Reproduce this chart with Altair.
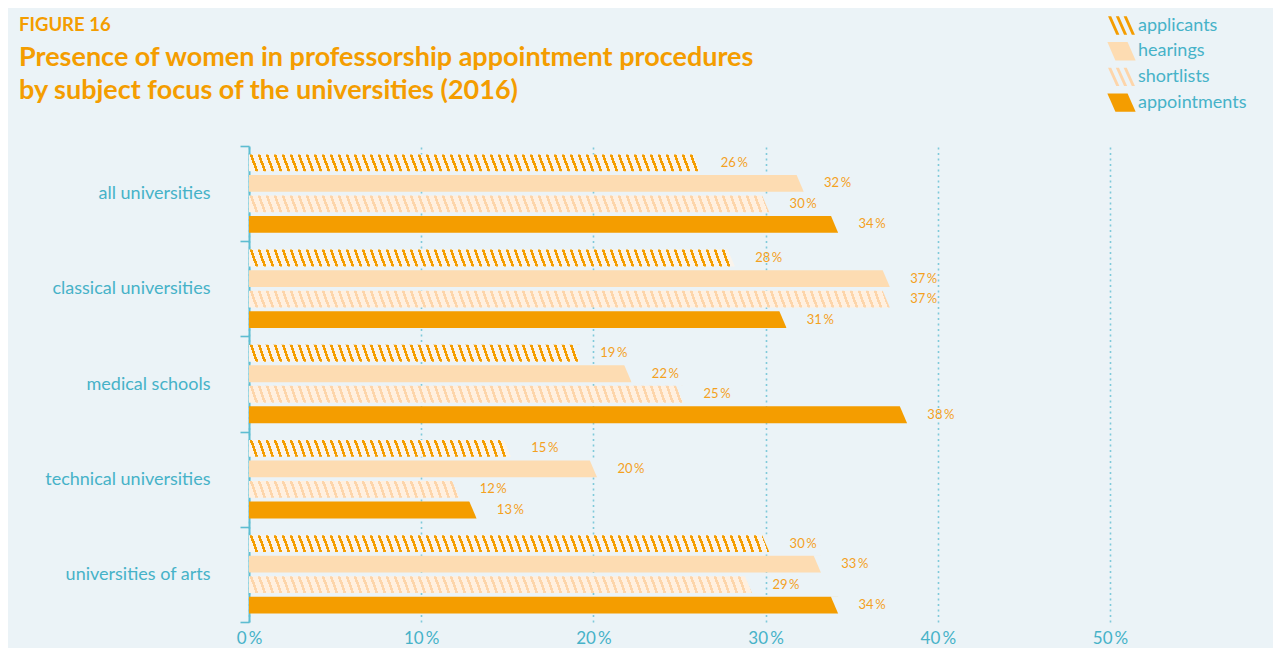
import altair as alt
import pandas as pd

# ---------------- data ----------------
categories = ["all universities", "classical universities", "medical schools",
              "technical universities", "universities of arts"]
series = ["applicants", "hearings", "shortlists", "appointments"]
applicants = [26, 28, 19, 15, 30]
hearings = [32, 37, 22, 20, 33]
shortlists = [30, 37, 25, 12, 29]
appointments = [34, 31, 38, 13, 34]
x_ticks = [0, 10, 20, 30, 40, 50]

values = {"applicants": applicants, "hearings": hearings,
          "shortlists": shortlists, "appointments": appointments}
rows = []
for i, c in enumerate(categories):
    for s in series:
        rows.append({"category": c, "series": s, "value": values[s][i]})
df = pd.DataFrame(rows)

# ---------------- style ----------------
W, H = 861, 476
PX = W / 50.0
CAP = 3.75           # half of the slanted end, px
BG = "#EBF3F7"
TEAL = "#46B2C8"
TEAL_LINE = "#5DBDD1"
GRID = "#7FCADA"
ORANGE = "#F49D00"
LABEL_ORANGE = "#F4A11E"
PEACH = "#FDDCB2"
A_BG = "#FAF4EC"
S_BG = "#FFF0E0"
S_STRIPE = "#FDD5AA"
FONT = "Lato"

fills = {"applicants": (ORANGE, A_BG), "shortlists": (S_STRIPE, S_BG)}
solid = {"hearings": PEACH, "appointments": ORANGE}
legend_colors = [ORANGE, PEACH, S_STRIPE, ORANGE]

para = "M-1,-0.65L0.43,-0.65L1,0.65L-0.43,0.65Z"
stripes = "".join(
    f"M{a:.2f},-0.65L{a + 0.22:.2f},-0.65L{a + 0.80:.2f},0.65L{a + 0.58:.2f},0.65Z"
    for a in (-0.95, -0.40, 0.15))
legend_shapes = [stripes, para, stripes, para]
# background-coloured wedge that cuts the top-right corner of each bar -> slanted end
cut_path = "M-0.44,-1.06L0.62,-1.06L0.62,1L0.44,1Z"


def X(field):
    return alt.X(field, scale=alt.Scale(domain=[0, 50], nice=False), title=None,
                 axis=alt.Axis(values=x_ticks, labelExpr="datum.value + '\u2009%'",
                               domain=False, ticks=False, labelFont=FONT, labelFontSize=17,
                               labelColor=TEAL, labelPadding=8, labelFlush=False, grid=True,
                               gridColor=GRID, gridDash=[2, 3.5], gridWidth=1.6))


def Y():
    return alt.Y("category:N", sort=categories, title=None,
                 scale=alt.Scale(paddingInner=0, paddingOuter=0),
                 axis=alt.Axis(domainColor=TEAL_LINE, domainWidth=2, tickColor=TEAL_LINE,
                               tickWidth=1.6, tickSize=9, tickBand="extent", labelFont=FONT,
                               labelFontSize=18, labelColor=TEAL, labelPadding=30,
                               labelLimit=300))


def YO():
    return alt.YOffset("series:N", sort=series,
                       scale=alt.Scale(domain=series, paddingInner=0.18, paddingOuter=0.41))


def hatch_gradient(value, stripe, bg):
    L = value * PX + CAP
    s = 6.0
    b = -s / L
    k = 1 + b * b
    P = 8.0 / (L * k)
    w = 2.7 / (L * k)
    stops = [alt.GradientStop(offset=0, color=bg)]
    t = 0.6 / (L * k)
    while t < 1:
        e = min(t + w, 1)
        stops += [alt.GradientStop(offset=t, color=bg), alt.GradientStop(offset=t, color=stripe),
                  alt.GradientStop(offset=e, color=stripe), alt.GradientStop(offset=e, color=bg)]
        t += P
    stops.append(alt.GradientStop(offset=1, color=bg))
    return alt.LinearGradient(gradient="linear", stops=stops, x1=0, y1=0, x2=1, y2=b)


base = alt.Chart(df).transform_calculate(zero="0")
layers = []

# hatched bars (one per bar, gradient depends on its length)
for c in categories:
    for s in ("applicants", "shortlists"):
        v = values[s][categories.index(c)]
        stripe, bg = fills[s]
        layers.append(
            base.transform_filter((alt.datum.category == c) & (alt.datum.series == s))
            .mark_bar(color=hatch_gradient(v, stripe, bg), x2Offset=CAP, strokeWidth=0)
            .encode(x=X("zero:Q"), x2="value:Q", y=Y(), yOffset=YO())
        )

# solid bars
for s, col in solid.items():
    layers.append(
        base.transform_filter(alt.datum.series == s)
        .mark_bar(color=col, x2Offset=CAP, strokeWidth=0)
        .encode(x=X("zero:Q"), x2="value:Q", y=Y(), yOffset=YO())
    )

# slanted ends: cut the top-right corner with the background colour
layers.append(
    base.mark_point(shape=cut_path, filled=True, size=289, opacity=1, color=BG, strokeWidth=0)
    .encode(x=X("value:Q"), y=Y(), yOffset=YO())
)

# value labels
layers.append(
    base.transform_calculate(label="datum.value + '\u2009%'")
    .mark_text(align="left", baseline="middle", dx=24, font=FONT, fontSize=13, color=LABEL_ORANGE)
    .encode(x=X("value:Q"), y=Y(), yOffset=YO(), text="label:N")
)

# legend carrier
leg = alt.Legend(orient="none", legendX=858, legendY=-135, title=None, symbolOpacity=1,
                 symbolSize=800, symbolStrokeWidth=0, labelFont=FONT, labelFontSize=18,
                 labelColor=TEAL, labelOffset=2, rowPadding=1.7)
layers.append(
    alt.Chart(pd.DataFrame({"series": series}))
    .mark_point(filled=True, opacity=0, size=800)
    .encode(color=alt.Color("series:N", sort=series,
                            scale=alt.Scale(domain=series, range=legend_colors), legend=leg),
            shape=alt.Shape("series:N", sort=series,
                            scale=alt.Scale(domain=series, range=legend_shapes), legend=leg))
)

chart = alt.layer(*layers).properties(
    width=W, height=H,
    autosize=alt.AutoSizeParams(type="none"),
    padding={"left": 241, "top": 138, "right": 163, "bottom": 26},
    title=alt.Title(
        "FIGURE 16",
        subtitle=["Presence of women in professorship appointment procedures",
                  "by subject focus of the universities (2016)"],
        anchor="start", frame="group", dx=-230, offset=-93,
        font=FONT, fontSize=18.5, fontWeight="bold", color=ORANGE,
        subtitleFont=FONT, subtitleFontSize=27, subtitleFontWeight="bold",
        subtitleColor=ORANGE, subtitleLineHeight=33.5, subtitlePadding=10,
    ),
).configure(background=BG).configure_view(stroke=None)

chart.save("out.html", embed_options={"renderer": "svg", "actions": False})
